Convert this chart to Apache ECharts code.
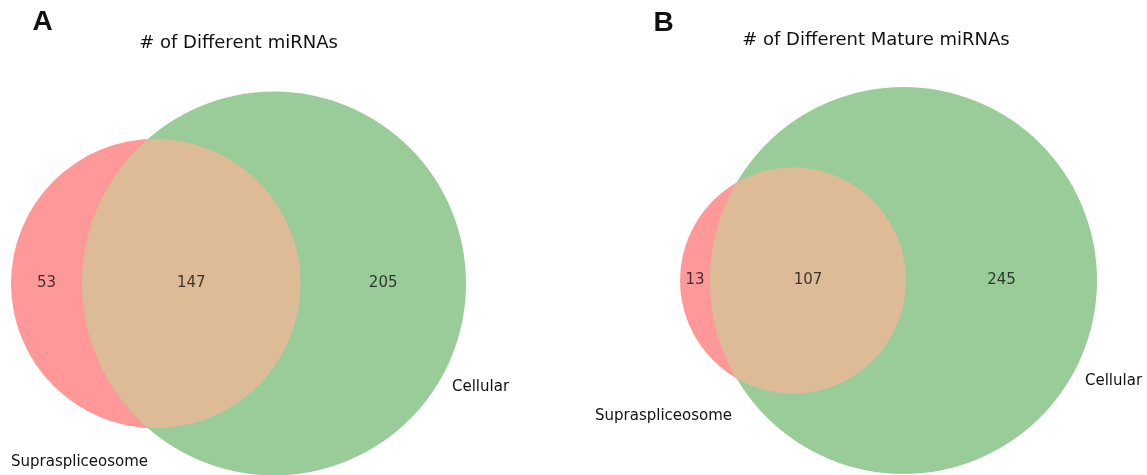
<!DOCTYPE html>
<html>
<head>
<meta charset="utf-8">
<script src="https://cdn.jsdelivr.net/npm/echarts@6/dist/echarts.min.js"></script>
<style>
  html, body { margin: 0; padding: 0; background: #fff; }
  #chart { width: 1147px; height: 475px; }
</style>
</head>
<body>
<div id="chart"></div>
<script>
// region counts: [only first set, both, only second set]
const setNames = ["Supraspliceosome", "Cellular"];
const panelTitles = ["# of Different miRNAs", "# of Different Mature miRNAs"];
const panelTags = ["A", "B"];
const countsAll = [53, 147, 205];
const countsMature = [13, 107, 245];

const FONT = '"DejaVu Sans", sans-serif';
const RED = "#ff9999";
const GREEN = "#99cc99";
const BOTH = "#debb97";

// area of the overlap of two circles, centres d apart
function lensArea(r1, r2, d) {
  const a1 = Math.acos((d * d + r1 * r1 - r2 * r2) / (2 * d * r1));
  const a2 = Math.acos((d * d + r2 * r2 - r1 * r1) / (2 * d * r2));
  const k = Math.sqrt((-d + r1 + r2) * (d + r1 - r2) * (d - r1 + r2) * (d + r1 + r2));
  return r1 * r1 * a1 + r2 * r2 * a2 - 0.5 * k;
}

// area-proportional two circle layout
function vennLayout(c) {
  const r1 = Math.sqrt((c[0] + c[1]) / Math.PI);
  const r2 = Math.sqrt((c[1] + c[2]) / Math.PI);
  let lo = Math.abs(r1 - r2) + 1e-9, hi = r1 + r2 - 1e-9;
  for (let i = 0; i < 80; i++) {
    const mid = (lo + hi) / 2;
    if (lensArea(r1, r2, mid) > c[1]) lo = mid; else hi = mid;
  }
  const d = (lo + hi) / 2;
  const x0 = (d * d + r1 * r1 - r2 * r2) / (2 * d);
  const h = Math.sqrt(r1 * r1 - x0 * x0);
  return { r1, r2, d, x0, h };
}

const panels = [
  { counts: countsAll, left: 11, top: 92, width: 455 },
  { counts: countsMature, left: 680, top: 87, width: 417 },
];

const grids = [], xAxes = [], yAxes = [], series = [];

panels.forEach((p, i) => {
  const g = vennLayout(p.counts);
  const spanX = g.r1 + g.d + g.r2;
  const spanY = 2 * Math.max(g.r1, g.r2);
  grids.push({ left: p.left, top: p.top, width: p.width, height: p.width * spanY / spanX });
  xAxes.push({ type: "value", gridIndex: i, min: -g.r1, max: g.d + g.r2, show: false });
  yAxes.push({ type: "value", gridIndex: i, min: -spanY / 2, max: spanY / 2, show: false });

  // lens outline in data units
  const lens = [];
  const a1 = Math.atan2(g.h, g.x0);
  const a2 = Math.atan2(g.h, g.x0 - g.d);
  const n = 120;
  for (let k = 0; k <= n; k++) {
    const t = -a1 + (2 * a1 * k) / n;
    lens.push([g.r1 * Math.cos(t), g.r1 * Math.sin(t)]);
  }
  for (let k = 0; k <= n; k++) {
    const t = a2 + ((2 * Math.PI - 2 * a2) * k) / n;
    lens.push([g.d + g.r2 * Math.cos(t), g.r2 * Math.sin(t)]);
  }

  series.push({
    type: "custom",
    xAxisIndex: i,
    yAxisIndex: i,
    silent: true,
    data: [[0, 0, g.r1, 0], [g.d, 0, g.r2, 1], [g.x0, 0, g.h, 2]],
    renderItem: function (params, api) {
      const kind = api.value(3);
      if (kind === 2) {
        return {
          type: "polygon",
          shape: { points: lens.map((pt) => api.coord(pt)) },
          style: { fill: BOTH },
        };
      }
      const c = api.coord([api.value(0), api.value(1)]);
      const r = api.size([api.value(2), 0])[0];
      return {
        type: "circle",
        shape: { cx: c[0], cy: c[1], r: r },
        style: { fill: kind === 0 ? RED : GREEN },
      };
    },
  });

  series.push({
    type: "scatter",
    xAxisIndex: i,
    yAxisIndex: i,
    silent: true,
    symbolSize: 0,
    z: 5,
    data: [
      [(-g.r1 + g.d - g.r2) / 2, 0, p.counts[0]],
      [(g.d - g.r2 + g.r1) / 2, 0, p.counts[1]],
      [(g.r1 + g.d + g.r2) / 2, 0, p.counts[2]],
    ],
    label: {
      show: true,
      position: "inside",
      formatter: (d) => d.data[2],
      color: "#111",
      fontFamily: FONT,
      fontSize: 15,
    },
  });
});

const txt = (x, y, text, font, align) => ({
  type: "text",
  x: x,
  y: y,
  silent: true,
  style: { text: text, font: font, fill: "#111", align: align || "center", verticalAlign: "middle" },
});

const option = {
  animation: false,
  backgroundColor: "#fff",
  grid: grids,
  xAxis: xAxes,
  yAxis: yAxes,
  series: series,
  graphic: [
    txt(42.5, 22, panelTags[0], 'bold 28px "Liberation Sans", sans-serif'),
    txt(663.5, 23, panelTags[1], 'bold 28px "Liberation Sans", sans-serif'),
    txt(238.5, 43, panelTitles[0], "18px " + FONT),
    txt(876, 40, panelTitles[1], "18px " + FONT),
    txt(11, 462, setNames[0], "15px " + FONT, "left"),
    txt(452, 387, setNames[1], "15px " + FONT, "left"),
    txt(595, 416, setNames[0], "15px " + FONT, "left"),
    txt(1085, 381, setNames[1], "15px " + FONT, "left"),
  ],
};

const chart = echarts.init(document.getElementById("chart"));
chart.setOption(option);
</script>
</body>
</html>
